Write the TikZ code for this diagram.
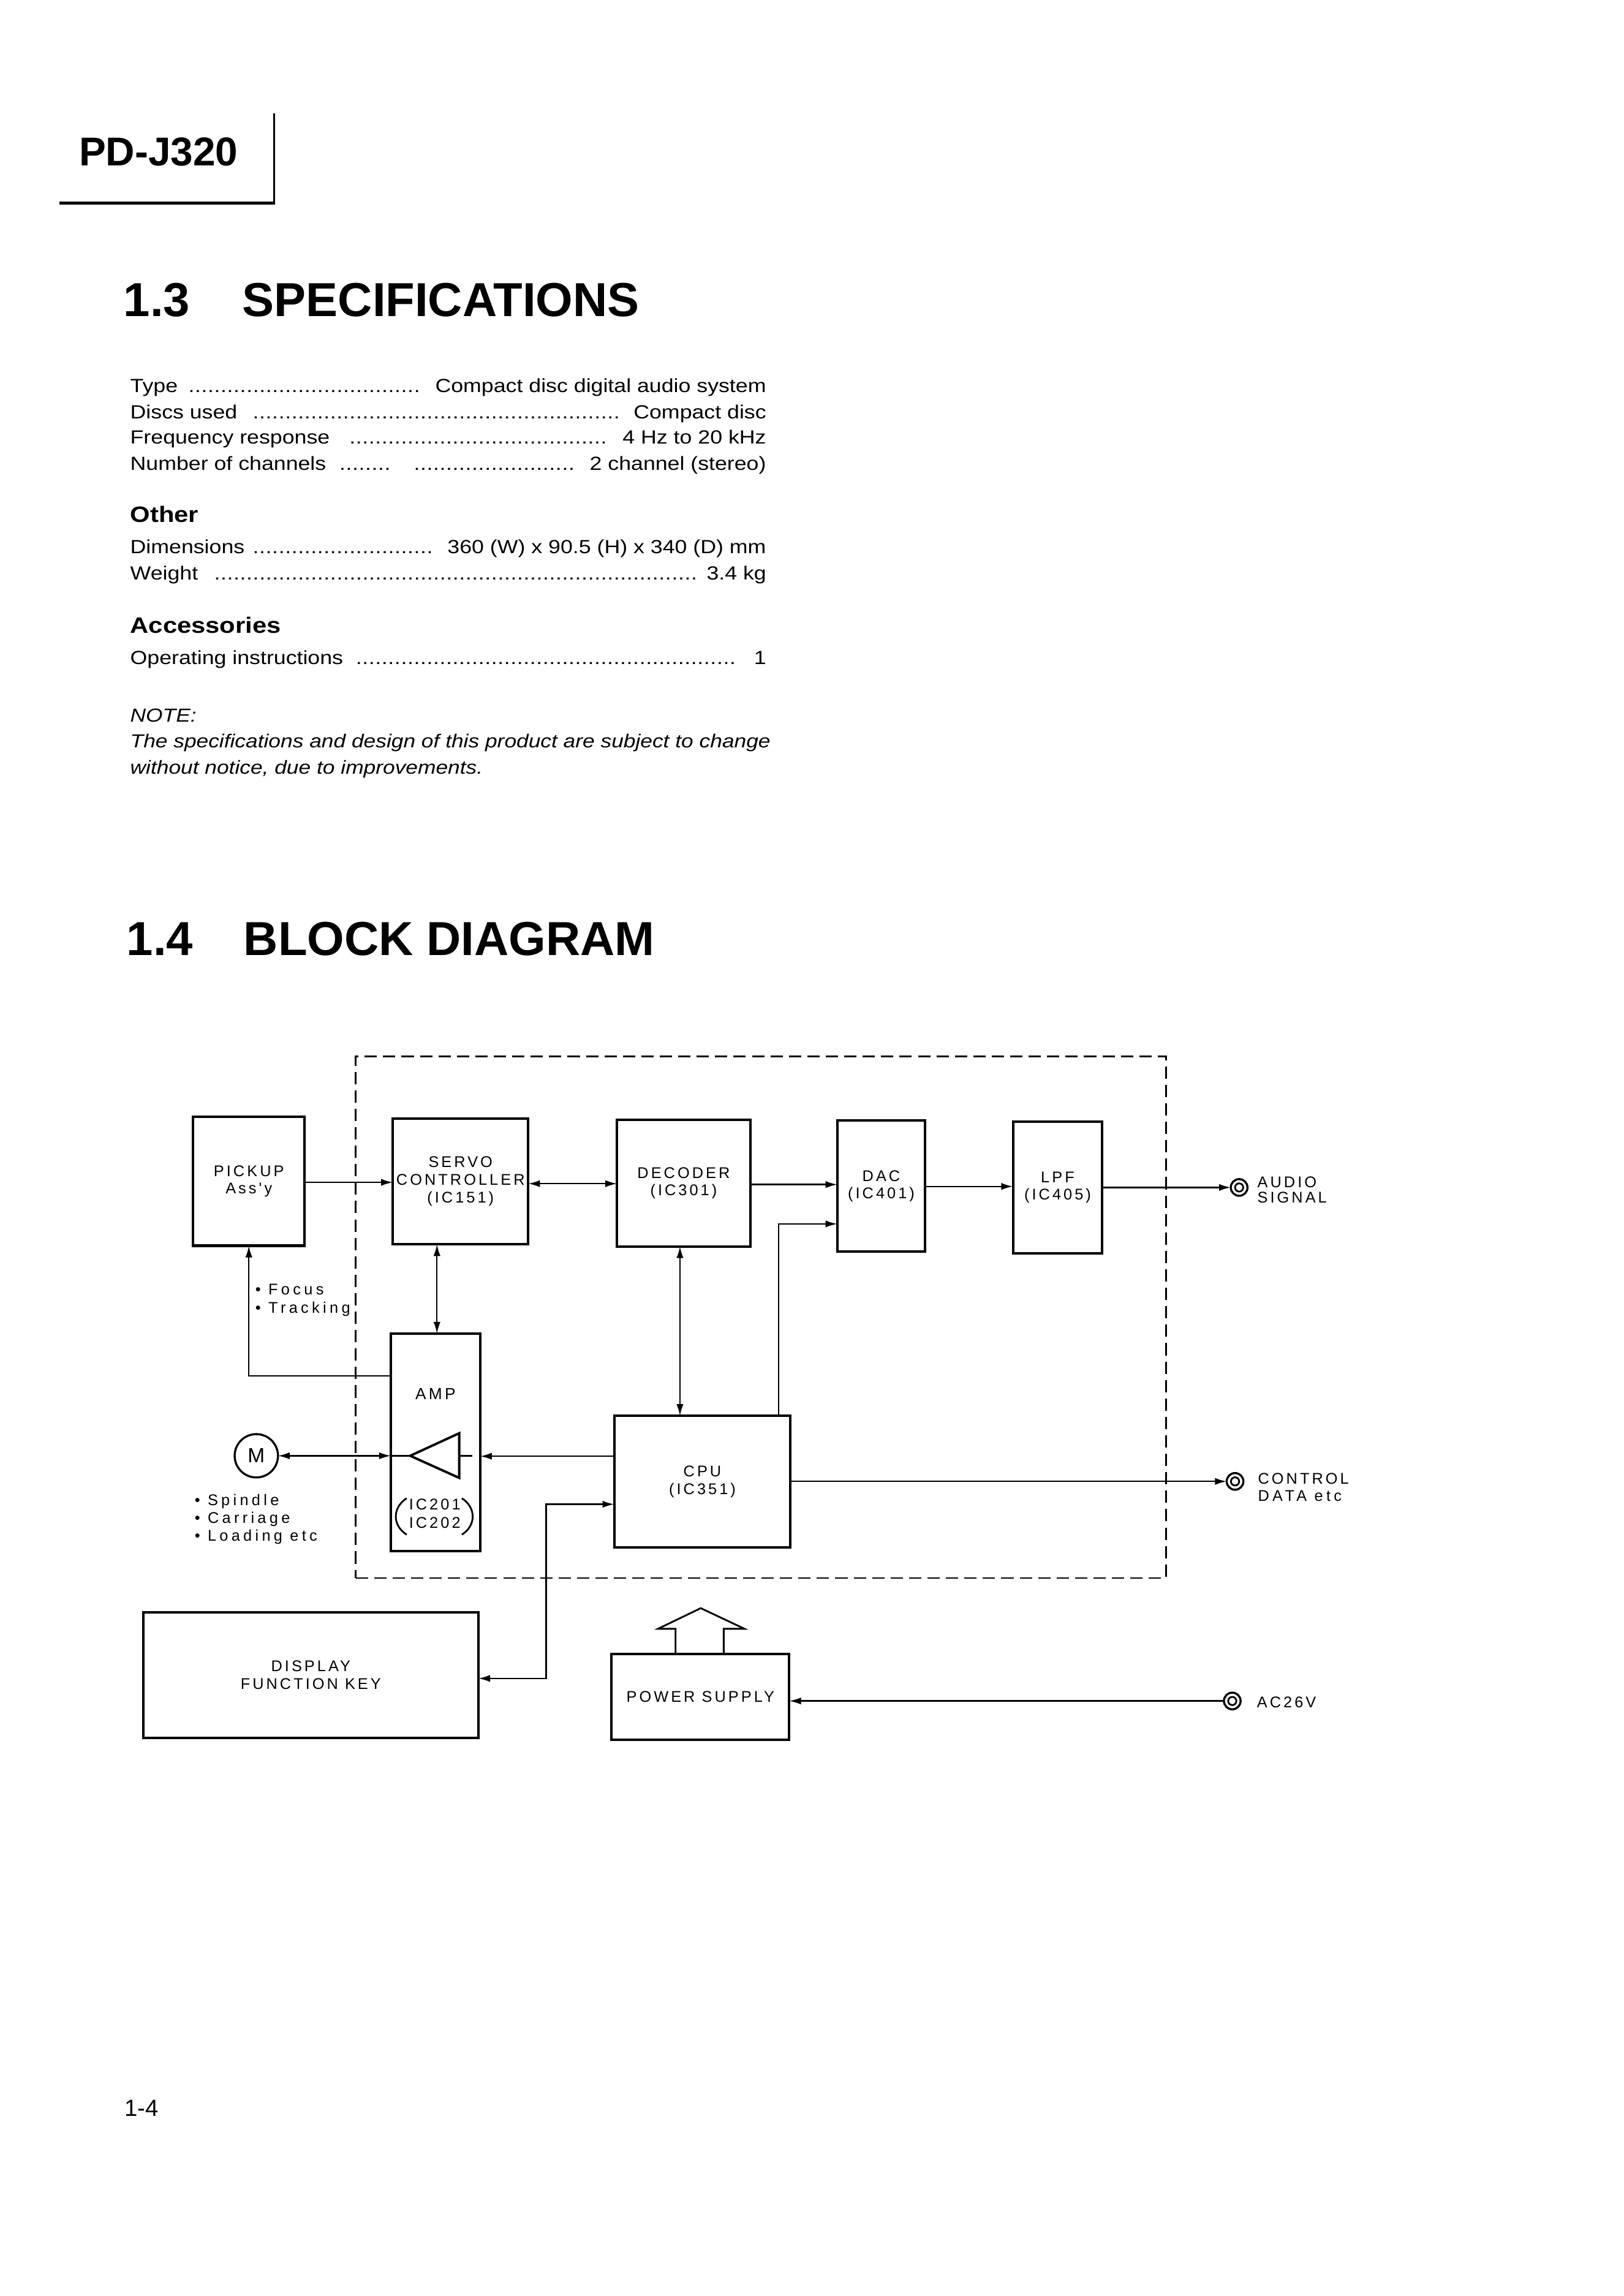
\documentclass[tikz,border=0pt]{standalone}
\usepackage{fontspec}
\setmainfont{Liberation Sans}
\newfontfamily\specfont[FakeStretch=1.15]{Liberation Sans}
\newfontfamily\lblfont[LetterSpace=16]{Liberation Sans}
\newfontfamily\lblfontw[LetterSpace=21]{Liberation Sans}
\usetikzlibrary{arrows.meta}
\newcommand\dlead{\leaders\hbox to 2.2pt{\hss.\hss}\hfill}
\newcommand\specrow[1]{\hbox to 217.15pt{#1}}
\begin{document}
\begin{tikzpicture}[x=0.5pt,y=-0.5pt,
  every node/.style={inner sep=0pt, outer sep=0pt},
  blk/.style={draw, line width=0.85pt, align=center, font=\lblfont\fontsize{5.3}{6}\selectfont},
  lbl/.style={anchor=base west, font=\lblfont\fontsize{5.3}{6}\selectfont},
  lblw/.style={anchor=base west, font=\lblfontw\fontsize{5.3}{6}\selectfont},
  spec/.style={anchor=base west, font=\specfont\fontsize{6.5}{7.8}\selectfont},
  subhead/.style={anchor=base west, font=\specfont\bfseries\fontsize{7.6}{9}\selectfont},
  notefont/.style={anchor=base west, font=\specfont\itshape\fontsize{6.43}{7.8}\selectfont},
  head/.style={anchor=base west, font=\bfseries\fontsize{16.3}{18}\selectfont},
  conn/.style={line width=0.5pt},
  arr/.style={conn, -{Latex[length=4pt,width=2.4pt]}},
  dbl/.style={conn, {Latex[length=4pt,width=2.4pt]}-{Latex[length=4pt,width=2.4pt]}},
  jack/.style={draw, circle, line width=0.7pt, minimum size=5.7pt}]

\fill[white] (0,0) rectangle (1109,1568.5);
\useasboundingbox (0,0) rectangle (1109,1568.5);

% ---------- header ----------
\node[anchor=base west, font=\bfseries\fontsize{13.75}{15}\selectfont] (model) at (54,113) {PD-J320};
\draw[line width=0.5pt] (187.3,77.4) -- (187.3,139.3);
\draw[line width=1.1pt] (40.4,138.8) -- (187.8,138.8);

% ---------- specifications ----------
\node[head] (h13n) at (84.5,216.2) {1.3};
\node[head] (h13t) at (165.7,216.2) {SPECIFICATIONS};

\node[spec] (r1) at (89,268) {\specrow{Type\hspace{2.6pt}\dlead\hspace{3.5pt}Compact disc digital audio system}};
\node[spec] (r2) at (89,286.1) {\specrow{Discs used\hspace{4.3pt}\dlead\hspace{4.3pt}Compact disc}};
\node[spec] (r3) at (89,303.4) {\specrow{Frequency response\hspace{4.9pt}\dlead\hspace{4pt}4 Hz to 20 kHz}};
\node[spec] (r4) at (89,321.2) {\specrow{Number of channels\hspace{4.5pt}\hbox to 19.6pt{\dlead}\hspace{4pt}\dlead\hspace{3pt}2 channel (stereo)}};

\node[subhead] (other) at (89,356.7) {Other};
\node[spec] (r5) at (89,378.2) {\specrow{Dimensions\hspace{2pt}\dlead\hspace{3.5pt}360 (W) x 90.5 (H) x 340 (D) mm}};
\node[spec] (r6) at (89,396) {\specrow{Weight\hspace{4pt}\dlead\hspace{3pt}3.4 kg}};

\node[subhead] (acc) at (89,432.4) {Accessories};
\node[spec] (r7) at (89,453.9) {\specrow{Operating instructions\hspace{2.5pt}\dlead\hspace{5pt}1}};

\node[notefont] (note) at (89,493) {NOTE:};
\node[notefont] (note1) at (89,510.8) {The specifications and design of this product are subject to change};
\node[notefont] (note2) at (89,528.6) {without notice, due to improvements.};

% ---------- block diagram heading ----------
\node[head] (h14n) at (86.5,652.8) {1.4};
\node[head] (h14t) at (166.5,652.8) {BLOCK DIAGRAM};

% ---------- dashed board ----------
\node[draw, dash pattern=on 4.2pt off 2.1pt, line width=0.6pt,
      minimum width=276.75pt, minimum height=178.25pt] (board) at (519.75,899.75) {};

% ---------- blocks ----------
\node[blk, minimum width=38pt, minimum height=44pt] (pickup) at (170,807) {PICKUP\\Ass'y};
\node[blk, minimum width=46.25pt, minimum height=43pt] (servo) at (314.6,807) {SERVO\\CONTROLLER\\(IC151)};
\node[blk, minimum width=45.5pt, minimum height=43.25pt] (decoder) at (467,808.2) {DECODER\\(IC301)};
\node[blk, minimum width=30pt, minimum height=44.7pt] (dac) at (602,810.3) {DAC\\(IC401)};
\node[blk, minimum width=30.5pt, minimum height=44.85pt] (lpf) at (722.5,811.2) {LPF\\(IC405)};
\node[blk, minimum width=30.5pt, minimum height=74.25pt] (amp) at (297.5,985.25) {};
\node[blk, minimum width=60.2pt, minimum height=44.95pt] (cpu) at (479.8,1012.15) {CPU\\(IC351)};
\node[blk, minimum width=114.5pt, minimum height=43.05pt] (disp) at (212.3,1144.35) {DISPLAY\\FUNCTION KEY};
\node[blk, minimum width=60.75pt, minimum height=29.25pt] (psu) at (478.45,1159.25) {POWER SUPPLY};

% AMP contents
\node[font=\lblfont\fontsize{5.5}{6}\selectfont] (amplbl) at (297.5,952.4) {AMP};
\coordinate (tip) at (280.2,994.5);
\draw[line width=0.8pt, line join=miter] (313.7,979.1) -- (tip) -- (313.7,1009.6) -- cycle;
\draw[conn] (313.7,994.5) -- (322.5,994.5);
\node[font=\lblfont\fontsize{5.3}{6}\selectfont] (ic201) at (297,1027.8) {IC201};
\node[font=\lblfont\fontsize{5.3}{6}\selectfont] (ic202) at (297,1040.4) {IC202};
\draw[line width=0.6pt] (277.8,1023.5) .. controls (267.9,1030) and (267.9,1042) .. (277.8,1048.4);
\draw[line width=0.6pt] (315.5,1023.5) .. controls (325.4,1030) and (325.4,1042) .. (315.5,1048.4);

% motor
\node[draw, circle, line width=0.7pt, minimum size=14.8pt, font=\fontsize{7}{8}\selectfont] (motor) at (175.1,994.5) {M};

% jacks
\node[jack] (ajack) at (846.5,811.2) {};
\draw[line width=0.6pt] (ajack.center) circle (1.4pt);
\node[jack] (cjack) at (843.7,1012) {};
\draw[line width=0.6pt] (cjack.center) circle (1.4pt);
\node[jack] (acjack) at (841.8,1162) {};
\draw[line width=0.6pt] (acjack.center) circle (1.4pt);

% labels
\node[lbl] (laudio) at (859,811.3) {AUDIO};
\node[lbl] (lsignal) at (859,821.8) {SIGNAL};
\node[lbl] (lcontrol) at (859.4,1013.9) {CONTROL};
\node[lblw] (ldata) at (859.4,1025.4) {DATA etc};
\node[lbl] (lac) at (858.7,1166.6) {AC26V};
\node[lblw] (lfocus) at (174.5,884.6) {• Focus};
\node[lblw] (ltrack) at (174.5,897.1) {• Tracking};
\node[lblw] (lspin) at (133,1028.5) {• Spindle};
\node[lblw] (lcarr) at (133,1040.7) {• Carriage};
\node[lblw] (lload) at (133,1052.8) {• Loading etc};

% ---------- connectors ----------
\draw[arr] (pickup.east |- 0,807.7) -- (servo.west |- 0,807.7);
\draw[dbl] (servo.east |- 0,808.6) -- (decoder.west |- 0,808.6);
\draw[arr] (decoder.east |- 0,809.2) -- (dac.west |- 0,809.2);
\draw[arr] (dac.east |- 0,810.5) -- (lpf.west |- 0,810.5);
\draw[arr] (lpf.east |- ajack) -- (ajack.west);
\draw[dbl] (298.5,0 |- servo.south) -- (298.5,0 |- amp.north);
\draw[dbl] (464.5,0 |- decoder.south) -- (464.5,0 |- cpu.north);
\draw[arr] (531.8,0 |- cpu.north) |- (dac.west |- 0,836.1);
\draw[arr] (amp.west |- 0,940) -| (170,0 |- pickup.south);
\draw[dbl] (motor.east) -- (amp.west |- motor.east);
\draw[conn] (amp.west |- tip) -- (tip);
\draw[arr] (cpu.west |- 0,994.8) -- (amp.east |- 0,994.8);
\draw[dbl] (cpu.west |- 0,1027.6) -| (373,1146.6) -- (disp.east |- 0,1146.6);
\draw[arr] (cpu.east |- cjack) -- (cjack.west);
\draw[arr] (acjack.west) -- (psu.east |- acjack);

% power arrow (hollow)
\draw[line width=0.6pt, line join=miter] (461.5,0 |- psu.north) -- (461.5,1112.7) -- (449.5,1112.7) -- (478.7,1098.6) -- (508.6,1112.7) -- (494.4,1112.7) -- (494.4,0 |- psu.north);

% ---------- footer ----------
\node[anchor=base west, font=\fontsize{8}{9}\selectfont] (page) at (85,1445.5) {1-4};
\end{tikzpicture}
\end{document}
